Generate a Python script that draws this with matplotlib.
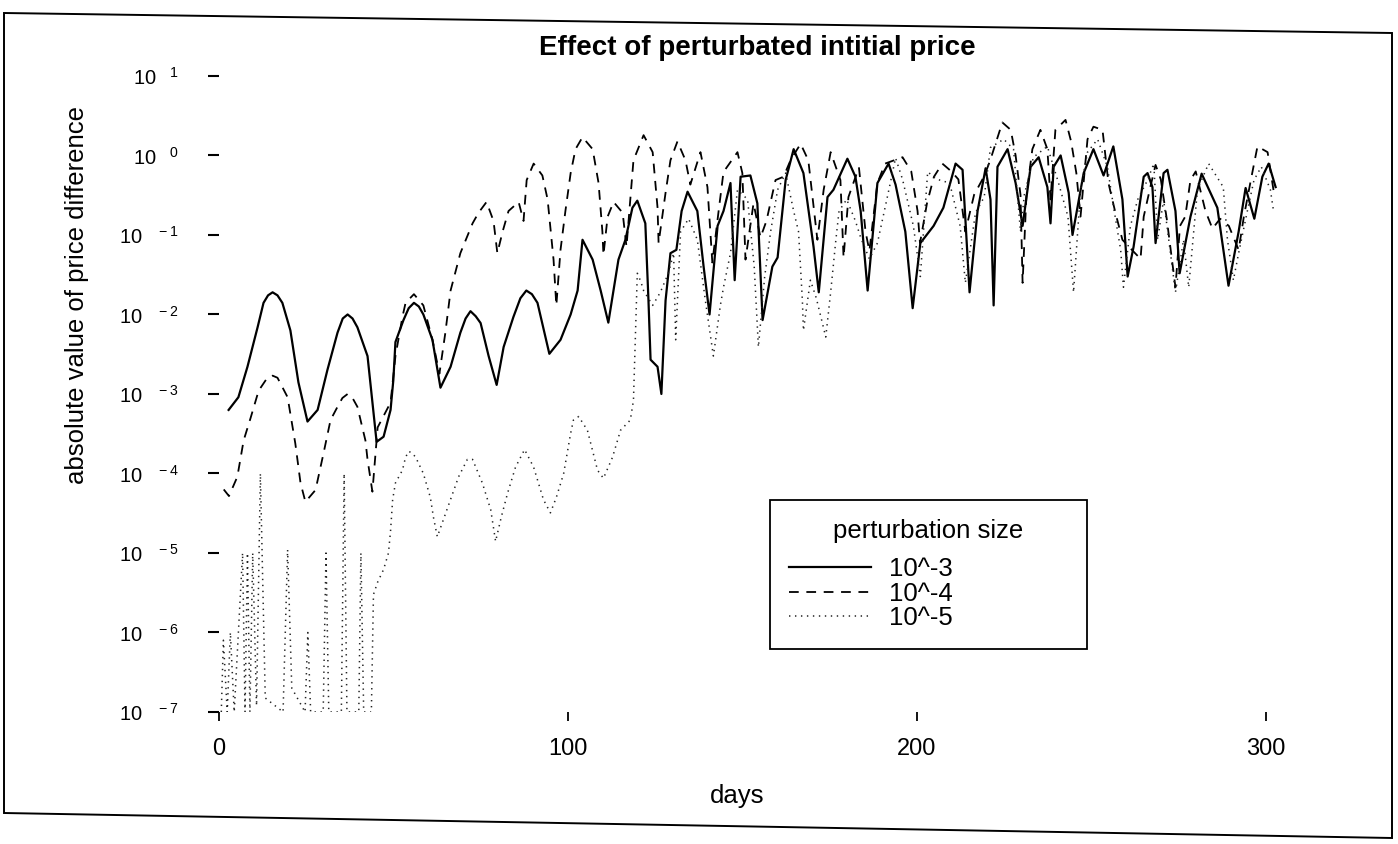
import matplotlib
matplotlib.use("Agg")
import matplotlib.pyplot as plt
from matplotlib.patches import Polygon

plt.rcParams['font.family'] = ['Liberation Sans', 'DejaVu Sans']
plt.rcParams['mathtext.fontset'] = 'custom'
plt.rcParams['mathtext.rm'] = 'Liberation Sans'
plt.rcParams['lines.scale_dashes'] = False

# ---- data ----
# perturbation 10^-3 (solid)
days_3 = [2.9, 5.7, 8.3, 11.2, 12.9, 14.2, 15.5, 16.9, 18.3, 20.6, 22.9, 25.5,
          28.4, 31.2, 34.1, 35.6, 37.0, 38.4, 39.8, 42.7, 45.3, 47.3, 49.3, 50.1,
          50.7, 53.0, 54.5, 56.0, 57.4, 58.7, 61.3, 63.6, 66.5, 69.3, 70.8, 72.2, 73.7, 75.1,
          77.4, 79.7, 81.7, 84.5, 86.5, 88.2, 89.8, 91.4, 94.8, 98.0, 100.9, 102.9,
          104.3, 107.2, 109.5, 111.7, 114.6, 116.6, 118.6, 120.0, 122.3, 123.2,
          123.8, 125.8, 126.9, 128.1, 129.5, 131.2, 132.7, 134.4, 137.2, 139.0,
          140.7, 143.0, 144.7, 146.7, 147.9, 149.6, 152.4, 154.4, 155.9, 158.7,
          160.2, 162.5, 164.8, 167.6, 170.5, 172.0, 174.5, 176.2, 180.2, 182.5,
          184.0, 186.0, 188.8, 192.0, 194.0, 196.8, 198.9, 201.1, 204.9, 207.7,
          211.2, 213.2, 215.2, 217.5, 219.8, 221.2, 222.1, 223.2, 226.1, 228.4,
          230.4, 232.7, 235.0, 237.5, 238.4, 239.3, 241.3, 243.6, 244.7, 247.9,
          250.7, 253.6, 256.4, 259.0, 260.5, 262.2, 265.1, 266.2, 267.6, 268.5,
          270.8, 271.9, 274.2, 275.4, 278.5, 281.7, 286.2, 289.4, 292.3, 294.3,
          296.8, 299.1, 300.9, 302.9]
diff_3 = [6.3e-4, 9.1e-4, 2.2e-3, 6.9e-3, 1.4e-2, 1.74e-2, 1.9e-2, 1.74e-2, 1.4e-2, 6.3e-3, 1.4e-3, 4.5e-4,
          6.3e-4, 2.0e-3, 5.9e-3, 8.9e-3, 1.0e-2, 8.9e-3, 6.9e-3, 3.0e-3, 2.5e-4, 2.9e-4, 6.3e-4, 1.5e-3,
          4.5e-3, 8.5e-3, 1.2e-2, 1.4e-2, 1.26e-2, 1.0e-2, 4.8e-3, 1.2e-3, 2.2e-3, 5.9e-3, 8.9e-3, 1.1e-2, 9.5e-3, 7.8e-3,
          3.0e-3, 1.3e-3, 3.9e-3, 9.3e-3, 1.6e-2, 2.0e-2, 1.8e-2, 1.4e-2, 3.2e-3, 4.8e-3, 1.0e-2, 2.0e-2,
          8.7e-2, 4.9e-2, 2.0e-2, 7.9e-3, 4.9e-2, 8.7e-2, 0.22, 0.27, 0.14, 1.5e-2,
          2.7e-3, 2.2e-3, 1.0e-3, 1.5e-2, 5.9e-2, 6.5e-2, 0.20, 0.35, 0.20, 4.0e-2,
          1.0e-2, 0.13, 0.20, 0.45, 2.7e-2, 0.54, 0.56, 0.25, 8.5e-3, 4.0e-2,
          5.2e-2, 0.49, 1.2, 0.60, 7.1e-2, 1.9e-2, 0.30, 0.37, 0.91, 0.54,
          0.20, 2.0e-2, 0.45, 0.79, 0.43, 0.11, 1.2e-2, 7.9e-2, 0.13, 0.22,
          0.79, 0.66, 1.9e-2, 0.20, 0.69, 0.28, 1.3e-2, 0.72, 1.2, 0.45,
          0.13, 0.72, 0.95, 0.40, 0.14, 0.72, 1.0, 0.34, 0.10, 0.60,
          1.2, 0.56, 1.3, 0.28, 3.0e-2, 7.1e-2, 0.54, 0.60, 0.40, 7.9e-2,
          0.60, 0.66, 0.20, 3.3e-2, 0.17, 0.59, 0.22, 2.3e-2, 0.11, 0.39,
          0.16, 0.54, 0.79, 0.40]

# perturbation 10^-4 (dashed)
days_4 = [1.5, 3.0, 5.4, 7.2, 9.2, 11.5, 14.0, 15.5, 16.9, 19.8,
          22.0, 23.5, 24.9, 27.8, 30.1, 32.1, 34.1, 35.5, 37.0, 38.4, 39.8, 42.1,
          42.7, 44.1, 45.6, 49.3, 50.7, 52.7, 53.6, 56.0, 58.7, 61.3,
          63.3, 65.0, 66.5, 69.3, 72.8, 74.5, 76.8, 78.8, 79.9, 81.4,
          83.1, 86.0, 87.4, 88.3, 90.3, 92.8, 94.3, 96.0, 96.8, 98.0,
          99.4, 100.9, 102.3, 104.3, 107.2, 108.9, 110.0, 110.3, 111.5, 113.2,
          115.8, 116.9, 118.9, 121.8, 124.4, 125.8, 126.1, 128.1, 129.5, 131.5,
          133.8, 135.2, 138.1, 140.1, 141.5, 143.3, 144.7, 148.7, 150.1, 151.0,
          153.3, 155.3, 157.0, 159.6, 161.9, 164.0, 166.8, 169.0, 171.6, 173.4,
          175.4, 178.2, 179.1, 180.5, 183.5, 185.4, 186.5, 188.8, 191.0, 196.0,
          198.5, 200.3, 201.0, 203.0, 205.0, 207.4, 210.0, 212.0, 214.0, 216.5,
          219.5, 221.2, 224.6, 227.0, 228.4, 229.8, 230.4, 231.5, 233.2, 235.5,
          237.5, 238.4, 239.8, 242.7, 244.3, 245.8, 247.0, 249.0, 250.7, 253.3,
          255.0, 257.0, 259.0, 262.0, 264.2, 265.1, 267.0, 268.5, 270.0, 271.7,
          274.2, 275.5, 277.0, 278.5, 280.0, 282.8, 284.8, 287.0, 289.5, 292.3,
          293.8, 295.8, 297.7, 300.6, 302.5]
diff_4 = [6.3e-5, 5.2e-5, 9.1e-5, 2.6e-4, 5.0e-4, 1.1e-3, 1.6e-3, 1.7e-3, 1.6e-3, 9.1e-4,
          2.4e-4, 7.6e-5, 4.4e-5, 6.2e-5, 1.8e-4, 4.7e-4, 6.9e-4, 8.9e-4, 1.0e-3, 8.9e-4, 6.9e-4, 2.6e-4,
          1.5e-4, 5.9e-5, 3.8e-4, 7.8e-4, 3.0e-3, 9.3e-3, 1.4e-2, 1.8e-2, 1.3e-2, 4.8e-3,
          1.8e-3, 5.9e-3, 2.0e-2, 5.9e-2, 0.14, 0.19, 0.26, 0.15, 5.9e-2, 0.11,
          0.20, 0.26, 0.15, 0.49, 0.79, 0.56, 0.28, 4.9e-2, 1.3e-2, 6.5e-2,
          0.20, 0.60, 1.2, 1.7, 1.2, 0.45, 0.11, 5.6e-2, 0.17, 0.26,
          0.19, 7.1e-2, 0.87, 1.8, 1.1, 0.22, 7.9e-2, 0.34, 0.87, 1.5,
          0.87, 0.43, 1.1, 0.40, 4.5e-2, 0.20, 0.62, 1.1, 0.60, 4.9e-2,
          0.25, 9.3e-2, 0.15, 0.49, 0.54, 0.89, 1.4, 0.87, 8.7e-2, 0.37,
          1.1, 0.49, 5.2e-2, 0.30, 0.71, 0.11, 6.3e-2, 0.45, 0.79, 0.95,
          0.63, 0.20, 7.9e-2, 0.25, 0.54, 0.79, 0.63, 0.50, 0.11, 0.32,
          0.56, 0.89, 2.6, 2.1, 1.0, 0.32, 2.5e-2, 0.32, 1.2, 2.1,
          1.2, 0.28, 2.1, 2.8, 1.5, 0.60, 0.17, 1.6, 2.3, 2.1,
          0.45, 0.19, 8.7e-2, 6.3e-2, 5.0e-2, 0.17, 0.40, 0.76, 0.50, 0.16,
          2.2e-2, 0.13, 0.17, 0.49, 0.63, 0.20, 0.12, 0.16, 0.13, 6.5e-2,
          0.17, 0.49, 1.3, 1.1, 0.32]

# perturbation 10^-5 (dotted), 1e-7 = bottom of the plot
days_5 = [0.8, 1.4, 2.5, 3.4, 4.5, 6.9, 7.6, 8.3, 9.0, 9.8,
          10.9, 12.0, 13.4, 18.5, 19.8, 21.0, 24.8, 25.6, 26.4, 30.0,
          30.8, 31.6, 35.2, 36.0, 36.8, 40.2, 40.8, 41.6, 43.8, 44.4,
          45.6, 47.3, 48.7, 49.3, 49.9, 50.7, 52.7, 53.6, 54.5, 55.5, 56.5, 58.7,
          60.7, 61.6, 62.7, 66.5, 68.8, 71.3, 72.8, 75.6, 78.0, 79.4,
          81.0, 82.8, 85.1, 87.7, 90.3, 93.1, 95.1, 96.8, 98.9, 100.9,
          101.7, 103.2, 105.7, 108.6, 110.3, 112.9, 115.2, 118.0, 118.9, 119.5,
          120.0, 121.0, 121.8, 124.4, 126.6, 128.9, 130.4, 131.0, 132.4, 134.7,
          137.2, 139.5, 141.8, 143.8, 144.7, 146.7, 148.7, 151.6, 153.5, 154.7,
          156.5, 158.2, 160.2, 162.5, 164.8, 166.2, 167.3, 167.6, 169.6, 171.3,
          174.0, 175.4, 176.9, 177.8, 180.0, 182.5, 184.0, 186.5, 188.8, 191.5,
          194.0, 196.0, 199.1, 201.1, 203.2, 206.0, 209.5, 212.5, 214.0, 216.9,
          219.4, 221.2, 225.0, 227.8, 229.8, 230.9, 233.5, 237.5, 240.7, 243.4,
          245.0, 247.0, 249.0, 251.9, 254.7, 256.5, 258.5, 259.3, 261.3, 263.4,
          266.2, 268.0, 269.1, 270.8, 274.2, 276.5, 278.0, 280.5, 283.7, 287.9,
          289.1, 290.8, 292.3, 294.8, 296.7, 298.8, 301.4, 302.3]
diff_5 = [1e-7, 8e-7, 1e-7, 1e-6, 1e-7, 1e-5, 1e-7, 1e-5, 1e-7, 1e-5,
          1.2e-7, 1e-4, 1.5e-7, 1e-7, 1.1e-5, 2e-7, 1e-7, 1e-6, 1e-7, 1e-7,
          1e-5, 1e-7, 1e-7, 1e-4, 1e-7, 1e-7, 1e-5, 1e-7, 1e-7, 3e-6,
          4.3e-6, 6.2e-6, 1e-5, 1.9e-5, 4.7e-5, 7.6e-5, 1.1e-4, 1.6e-4, 1.9e-4, 1.8e-4, 1.6e-4, 1.0e-4,
          5.0e-5, 2.8e-5, 1.6e-5, 4.7e-5, 9.1e-5, 1.5e-4, 1.5e-4, 7.6e-5, 3.5e-5, 1.4e-5,
          2.8e-5, 5.6e-5, 1.2e-4, 2.0e-4, 1.2e-4, 4.7e-5, 3.2e-5, 5.0e-5, 1.0e-4, 3.2e-4,
          4.7e-4, 5.2e-4, 3.5e-4, 1.1e-4, 8.7e-5, 1.6e-4, 3.5e-4, 4.7e-4, 8.3e-4, 5.9e-3,
          3.3e-2, 2.6e-2, 2.0e-2, 1.3e-2, 1.9e-2, 3.3e-2, 5.9e-2, 4.8e-3, 0.11, 0.16,
          8.7e-2, 1.5e-2, 3.0e-3, 1.3e-2, 2.2e-2, 5.9e-2, 0.37, 0.28, 4.0e-2, 3.9e-3,
          3.0e-2, 0.11, 0.37, 0.60, 0.20, 0.11, 1.5e-2, 6.3e-3, 2.7e-2, 1.6e-2,
          5.2e-3, 1.9e-2, 8.7e-2, 0.20, 0.28, 0.15, 9.3e-2, 5.0e-2, 7.9e-2, 0.28,
          0.93, 0.50, 0.13, 3.0e-2, 0.62, 0.50, 0.45, 0.13, 2.5e-2, 0.19,
          0.30, 1.26, 1.6, 1.2, 0.11, 0.32, 0.95, 1.3, 0.45, 0.17,
          1.9e-2, 0.37, 1.1, 1.6, 0.72, 0.22, 6.5e-2, 2.2e-2, 0.13, 0.28,
          0.49, 0.79, 8.7e-2, 0.28, 1.9e-2, 8.7e-2, 2.2e-2, 0.37, 0.79, 0.40,
          8.7e-2, 2.7e-2, 5.9e-2, 0.20, 0.49, 0.72, 0.37, 0.20]

series_labels = ['10^-3', '10^-4', '10^-5']
x_ticks = [0, 100, 200, 300]
y_exponents = [-7, -6, -5, -4, -3, -2, -1, 0, 1]

W, H = 1398, 844
fig = plt.figure(figsize=(W / 100, H / 100), dpi=100)
# axes placed so that day 0 / 1e-7 sit where the scan has them
ax = fig.add_axes([218.5 / W, 1 - 712 / H, 1081.9 / W, 644 / H])

ax.plot(days_3, diff_3, color='black', lw=1.6, label=series_labels[0])
ax.plot(days_4, diff_4, color='black', lw=1.3, dashes=(7, 5.5), label=series_labels[1])
ax.plot(days_5, diff_5, color='#222222', lw=1.1, dashes=(1, 3.3), label=series_labels[2])

ax.set_yscale('log')
ax.set_ylim(1e-7, 10 ** 1.1)
ax.set_xlim(0, 310)
for s in ax.spines.values():
    s.set_visible(False)
ax.yaxis.set_minor_locator(matplotlib.ticker.NullLocator())
ax.set_yticks([10.0 ** e for e in y_exponents])
ax.set_yticklabels([r'$\mathregular{10^{\quad %d}}$' % e if e >= 0 else
                    r'$\mathregular{10^{\quad -%d}}$' % (-e) for e in y_exponents])
ax.set_xticks(x_ticks)
ax.set_xticklabels([str(t) for t in x_ticks])
ax.tick_params(axis='y', direction='out', length=8, width=1.5, pad=21, labelsize=14.5)
ax.tick_params(axis='x', direction='out', length=6.5, width=1.3, pad=12, labelsize=17)

ax.set_ylabel('absolute value of price difference', fontsize=18.5)
ax.yaxis.set_label_coords((89 - 218.5) / 1081.9, (712 - 295.5) / 644)
ax.set_xlabel('days', fontsize=18.5)
ax.xaxis.set_label_coords((737 - 218.5) / 1081.9, (712 - 784) / 644)

fig.text(757 / W, 1 - 55 / H, 'Effect of perturbated intitial price',
         ha='center', va='baseline', fontsize=20, fontweight='bold')

leg = ax.legend(title='perturbation size', fontsize=18.5, title_fontsize=18.5,
                loc='upper left', mode='expand',
                bbox_to_anchor=(770 / W, 1 - 648 / H, 317 / W, 148 / H),
                bbox_transform=fig.transFigure, borderaxespad=0,
                labelspacing=0.02, handlelength=3.2, handletextpad=0.7,
                borderpad=0.75, fancybox=False, framealpha=1)
leg.get_frame().set_edgecolor('black')
leg.get_frame().set_linewidth(1.3)
leg._legend_box.sep = 10

# scanned page border (slightly tilted in the scan)
corners = [(4, 13), (1392, 33), (1392, 838), (4, 813)]
fig.patches.append(Polygon([(x / W, 1 - y / H) for x, y in corners], closed=True,
                           fill=False, edgecolor='black', lw=1.4,
                           transform=fig.transFigure, figure=fig))

fig.savefig('out.png', dpi=100)
